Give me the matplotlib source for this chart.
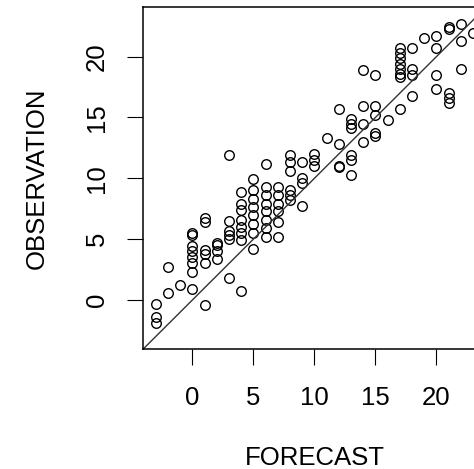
import numpy as np
import matplotlib.pyplot as plt

plt.rcParams['font.family'] = ['Liberation Sans', 'DejaVu Sans']

forecast = [-3, -3, -3,
            -2, -2,
            -1,
            0, 0, 0, 0, 0, 0, 0, 0,
            1, 1, 1, 1, 1, 1,
            2, 2, 2, 2,
            3, 3, 3, 3, 3, 3,
            4, 4, 4, 4, 4, 4, 4, 4,
            5, 5, 5, 5, 5, 5, 5, 5,
            6, 6, 6, 6, 6, 6, 6, 6,
            7, 7, 7, 7, 7, 7,
            8, 8, 8, 8, 8, 8,
            9, 9, 9, 9,
            10, 10, 10,
            11,
            12, 12, 12, 12,
            13, 13, 13, 13, 13, 13,
            14, 14, 14, 14,
            15, 15, 15, 15, 15,
            16,
            17, 17, 17, 17, 17, 17, 17, 17,
            18, 18, 18, 18,
            19,
            20, 20, 20, 20,
            21, 21, 21, 21, 21,
            22, 22, 22,
            23]
observation = [-0.3, -1.4, -1.9,
               2.7, 0.55,
               1.2,
               5.5, 5.3, 4.4, 4.0, 3.5, 3.0, 2.3, 0.9,
               6.7, 6.4, 4.1, 3.8, 3.0, -0.4,
               4.7, 4.5, 4.0, 3.4,
               11.9, 6.5, 5.7, 5.3, 5.0, 1.8,
               8.9, 7.9, 7.4, 6.6, 6.0, 5.5, 4.9, 0.7,
               9.9, 9.0, 8.3, 7.6, 7.0, 6.2, 5.5, 4.2,
               11.2, 9.3, 8.6, 7.9, 7.3, 6.6, 5.9, 5.2,
               9.3, 8.6, 7.9, 7.3, 6.4, 5.2,
               11.9, 11.3, 10.6, 9.0, 8.6, 8.2,
               11.3, 10.0, 9.6, 7.7,
               12.0, 11.5, 11.0,
               13.3,
               15.7, 12.8, 11.0, 10.9,
               14.9, 14.5, 14.1, 11.9, 11.5, 10.3,
               18.9, 15.9, 14.5, 13.0,
               18.5, 15.9, 15.2, 13.7, 13.5,
               14.8,
               20.7, 20.3, 19.9, 19.4, 19.0, 18.6, 18.3, 15.7,
               20.7, 19.0, 18.5, 16.8,
               21.5,
               21.7, 20.7, 18.5, 17.3,
               22.3, 22.4, 17.0, 16.6, 16.2,
               22.7, 21.3, 19.0,
               21.9]
ticks = [0, 5, 10, 15, 20]

lo, hi = -3, 23
pad = 0.04 * (hi - lo)

fig = plt.figure(figsize=(4.74, 4.69), dpi=100)
ax = fig.add_axes([0.302, 0.2557, 0.7228, 0.7284])

ax.plot(forecast, observation, linestyle='none', marker='o', markersize=6.9,
        markerfacecolor='none', markeredgecolor='black', markeredgewidth=1.0)
ax.axline((0, 0), slope=1, color='#333333', linewidth=1.0)

ax.set_xlim(lo - pad, hi + pad)
ax.set_ylim(lo - pad, hi + pad)
ax.set_xticks(ticks)
ax.set_yticks(ticks)
ax.set_yticklabels([str(t) for t in ticks], rotation=90, va='center')
ax.tick_params(axis='both', direction='out', length=11.5, width=0.8,
               labelsize=18.5, colors='black')
ax.tick_params(axis='x', pad=15.4)
ax.tick_params(axis='y', pad=13.4)
for s in ax.spines.values():
    s.set_linewidth(1.1)

ax.set_xlabel('FORECAST', fontsize=18.5)
ax.set_ylabel('OBSERVATION', fontsize=18.5)
ax.xaxis.set_label_coords(0.5, -0.283)
ax.yaxis.set_label_coords(-0.275, 0.5)

fig.savefig('out.png', dpi=100)
